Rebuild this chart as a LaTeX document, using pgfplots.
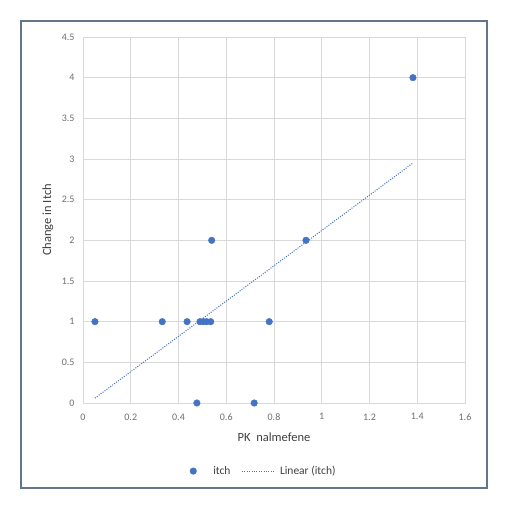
\documentclass[border=0pt]{standalone}
\usepackage{pgfplots}
\pgfplotsset{compat=1.18}
\usepackage{fontspec}
\setmainfont{Carlito}
\definecolor{ptblue}{RGB}{68,114,196}
\definecolor{gridc}{RGB}{217,217,217}
\definecolor{tickc}{RGB}{110,110,110}
\definecolor{labc}{RGB}{64,64,64}
\definecolor{framec}{RGB}{100,116,138}
\pgfplotsset{
  mylegmark/.style={legend image code/.code={\path[draw=none,fill=none] (0pt,0pt) -- (36pt,0pt); \path[##1,draw=none] plot coordinates {(18pt,0pt)};}},
  myleglin/.style={legend image code/.code={\path[draw=none,fill=none] (0pt,0pt) -- (36pt,0pt); \draw[##1] (0pt,0pt) -- (33pt,0pt);}}
}
\begin{document}
\begin{tikzpicture}[x=1pt,y=1pt]
\path[use as bounding box,fill=white] (0,0) rectangle (512,516);
\draw[framec,line width=2pt] (21,28) rectangle (487,495);
\begin{axis}[
  at={(83pt,113pt)}, anchor=south west,
  scale only axis, width=382pt, height=366pt,
  xmin=0, xmax=1.6, ymin=0, ymax=4.5,
  xtick={0,0.2,0.4,0.6,0.8,1,1.2,1.4,1.6},
  xticklabels={0,0.2,0.4,0.6,0.8,1,1.2,1.4,1.6},
  ytick={0,0.5,1,1.5,2,2.5,3,3.5,4,4.5},
  yticklabels={0,0.5,1,1.5,2,2.5,3,3.5,4,4.5},
  grid=major, grid style={gridc, line width=0.8pt},
  axis line style={gridc, line width=0.8pt},
  major tick length=0pt,
  tick label style={font=\fontsize{10}{11}\selectfont, text=tickc},
  yticklabel style={xshift=-5pt},
  xticklabel style={yshift=-7pt},
  xlabel={PK\ \ nalmefene}, ylabel={Change in Itch},
  label style={font=\fontsize{12.5}{14}\selectfont, text=labc},
  xlabel style={at={(axis description cs:0.5,-0.093)}, anchor=center},
  ylabel style={at={(axis description cs:-0.092,0.5)}, anchor=center},
  legend columns=2,
  legend style={at={(axis description cs:0.454,-0.186)}, anchor=center, draw=none, fill=none,
    font=\fontsize{11.5}{13}\selectfont, text=labc,
    /tikz/every even column/.append style={column sep=9pt}},
  legend cell align=left,
  clip=false
]
\addplot[only marks, mark=*, mark size=3.3pt, ptblue, mark options={draw=ptblue, fill=ptblue}, mylegmark] coordinates {
(0.05,1) (0.332,1) (0.436,1) (0.49,1) (0.504,1) (0.518,1) (0.535,1) (0.78,1)
(0.539,2) (0.934,2) (0.477,0) (0.717,0) (1.382,4)
};
\addlegendentry{itch}
\addplot[ptblue, line width=1pt, dash pattern=on 1pt off 1.4pt, mark=none, myleglin] coordinates {(0.05,0.06) (1.382,2.95)};
\addlegendentry{Linear (itch)}
\end{axis}
\end{tikzpicture}
\end{document}
